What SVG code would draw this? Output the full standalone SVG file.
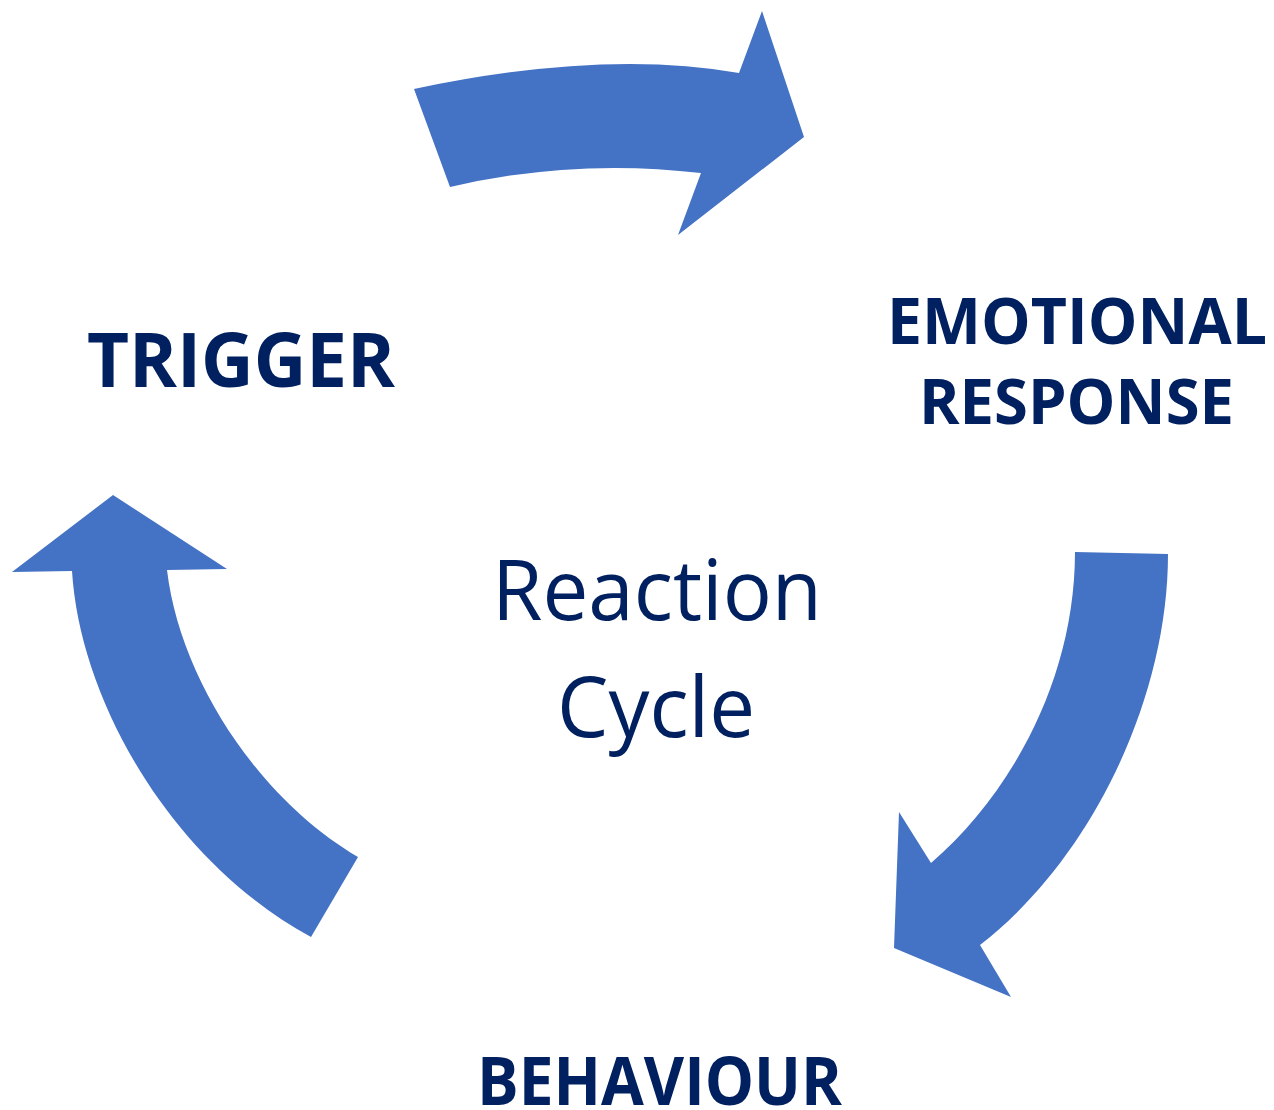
<svg xmlns="http://www.w3.org/2000/svg" width="1274" height="1110" viewBox="0 0 1274 1110">
<style>
.arrow{fill:#4472C4;stroke:none}
.lbl{font-family:"Open Sans","Noto Sans","Liberation Sans",sans-serif;font-weight:bold;fill:#002060}
.ctr{font-family:"Open Sans","Noto Sans","Liberation Sans",sans-serif;font-weight:normal;fill:#002060}
</style>
<rect width="1274" height="1110" fill="#ffffff"/>
<g id="connectors">
  <path id="arrow-top" class="arrow" d="M414,89 Q603,49 739,73 L762,11 L804,137 L678,235 L701,173 Q574,158 450,187 Z"/>
  <path id="arrow-right" class="arrow" d="M1075,552 L1168,554 C1168,700 1090,860 980,945 L1011,997 L894,948 L899,812 L931,863 C1010,795 1075,680 1075,552 Z"/>
  <path id="arrow-left" class="arrow" d="M311,937 C170,860 80,700 72,571 L12,572 L113,495 L227,569 L167,570 C180,680 260,800 358,857 Z"/>
</g>
<g id="node-trigger">
  <text class="lbl" x="87" y="387" font-size="76" textLength="308" lengthAdjust="spacingAndGlyphs">TRIGGER</text>
</g>
<g id="node-emotional-response">
  <text class="lbl" x="887" y="344" font-size="64" textLength="380" lengthAdjust="spacingAndGlyphs">EMOTIONAL</text>
  <text class="lbl" x="919" y="424" font-size="63" textLength="315" lengthAdjust="spacingAndGlyphs">RESPONSE</text>
</g>
<g id="node-behaviour">
  <text class="lbl" x="477" y="1105" font-size="66" textLength="365" lengthAdjust="spacingAndGlyphs">BEHAVIOUR</text>
</g>
<g id="node-center">
  <text class="ctr" x="492" y="620" font-size="85" textLength="330" lengthAdjust="spacingAndGlyphs">Reaction</text>
  <text class="ctr" x="557" y="737" font-size="85" textLength="198" lengthAdjust="spacingAndGlyphs">Cycle</text>
</g>
</svg>
